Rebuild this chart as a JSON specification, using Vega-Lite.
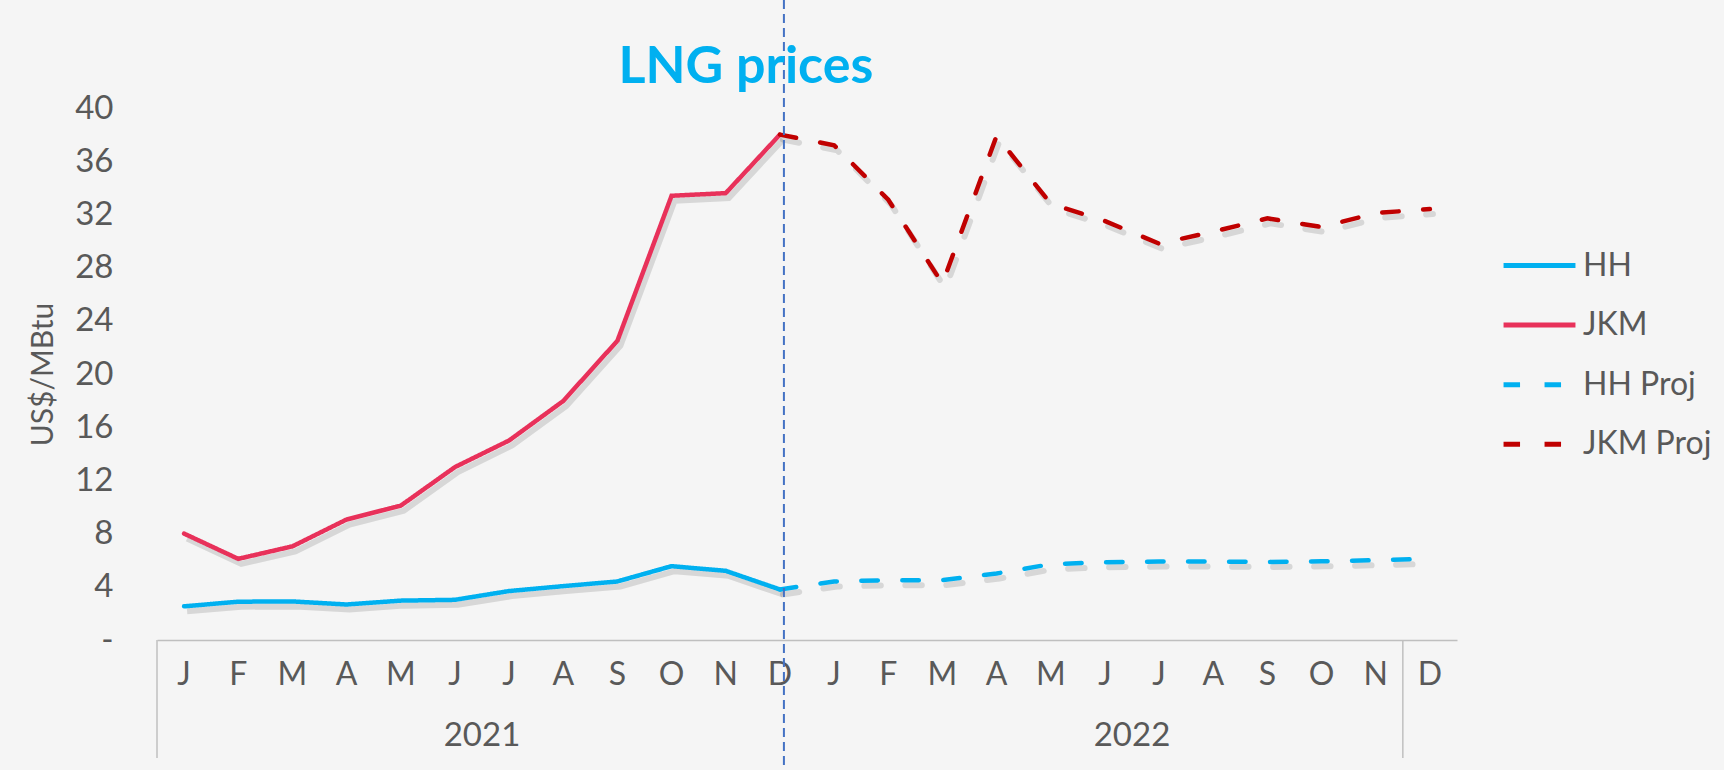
{
  "$schema": "https://vega.github.io/schema/vega-lite/v6.json",
  "width": 1300,
  "height": 532,
  "autosize": {"type": "none"},
  "padding": {"left": 157, "top": 108, "right": 267, "bottom": 130},
  "background": "#F5F5F5",
  "config": {"view": {"stroke": null}, "font": "Lato"},
  "datasets": {
    "prices": [
      {"m": "2021-01", "s": "HH", "v": 2.53}, {"m": "2021-02", "s": "HH", "v": 2.88}, {"m": "2021-03", "s": "HH", "v": 2.9}, {"m": "2021-04", "s": "HH", "v": 2.67}, {"m": "2021-05", "s": "HH", "v": 2.96}, {"m": "2021-06", "s": "HH", "v": 3.02}, {"m": "2021-07", "s": "HH", "v": 3.68}, {"m": "2021-08", "s": "HH", "v": 4.05}, {"m": "2021-09", "s": "HH", "v": 4.4}, {"m": "2021-10", "s": "HH", "v": 5.55}, {"m": "2021-11", "s": "HH", "v": 5.2}, {"m": "2021-12", "s": "HH", "v": 3.8},
      {"m": "2021-01", "s": "JKM", "v": 8.0}, {"m": "2021-02", "s": "JKM", "v": 6.1}, {"m": "2021-03", "s": "JKM", "v": 7.04}, {"m": "2021-04", "s": "JKM", "v": 9.06}, {"m": "2021-05", "s": "JKM", "v": 10.1}, {"m": "2021-06", "s": "JKM", "v": 13.0}, {"m": "2021-07", "s": "JKM", "v": 15.0}, {"m": "2021-08", "s": "JKM", "v": 17.97}, {"m": "2021-09", "s": "JKM", "v": 22.5}, {"m": "2021-10", "s": "JKM", "v": 33.4}, {"m": "2021-11", "s": "JKM", "v": 33.6}, {"m": "2021-12", "s": "JKM", "v": 38.0},
      {"m": "2021-12", "s": "HH Proj", "v": 3.8}, {"m": "2022-01", "s": "HH Proj", "v": 4.4}, {"m": "2022-02", "s": "HH Proj", "v": 4.5}, {"m": "2022-03", "s": "HH Proj", "v": 4.5}, {"m": "2022-04", "s": "HH Proj", "v": 5.0}, {"m": "2022-05", "s": "HH Proj", "v": 5.7}, {"m": "2022-06", "s": "HH Proj", "v": 5.85}, {"m": "2022-07", "s": "HH Proj", "v": 5.9}, {"m": "2022-08", "s": "HH Proj", "v": 5.9}, {"m": "2022-09", "s": "HH Proj", "v": 5.87}, {"m": "2022-10", "s": "HH Proj", "v": 5.92}, {"m": "2022-11", "s": "HH Proj", "v": 6.0}, {"m": "2022-12", "s": "HH Proj", "v": 6.1},
      {"m": "2021-12", "s": "JKM Proj", "v": 38.0}, {"m": "2022-01", "s": "JKM Proj", "v": 37.2}, {"m": "2022-02", "s": "JKM Proj", "v": 33.1}, {"m": "2022-03", "s": "JKM Proj", "v": 26.8}, {"m": "2022-04", "s": "JKM Proj", "v": 37.9}, {"m": "2022-05", "s": "JKM Proj", "v": 32.8}, {"m": "2022-06", "s": "JKM Proj", "v": 31.5}, {"m": "2022-07", "s": "JKM Proj", "v": 29.8}, {"m": "2022-08", "s": "JKM Proj", "v": 30.7}, {"m": "2022-09", "s": "JKM Proj", "v": 31.7}, {"m": "2022-10", "s": "JKM Proj", "v": 31.05}, {"m": "2022-11", "s": "JKM Proj", "v": 32.1}, {"m": "2022-12", "s": "JKM Proj", "v": 32.4}
    ],
    "years": [{"m": "2021-07", "label": "2021"}, {"m": "2022-07", "label": "2022"}],
    "separators": [{"m": "2021-01"}, {"m": "2022-12"}],
    "divider": [{"m": "2021-12"}],
    "heading": [{"m": "2021-12", "label": "LNG prices"}]
  },
  "layer": [
    {
      "data": {"name": "prices"},
      "transform": [{"filter": "datum.s == 'HH' || datum.s == 'JKM'"}],
      "mark": {"type": "line", "color": "#000000", "opacity": 0.12, "strokeWidth": 6, "xOffset": 3, "yOffset": 5},
      "encoding": {
        "x": {"field": "m", "type": "ordinal"},
        "y": {"field": "v", "type": "quantitative"},
        "detail": {"field": "s"}
      }
    },
    {
      "data": {"name": "prices"},
      "transform": [{"filter": "datum.s == 'HH Proj' || datum.s == 'JKM Proj'"}],
      "mark": {"type": "line", "color": "#000000", "opacity": 0.12, "strokeWidth": 6, "strokeDash": [16.5, 24.5], "strokeCap": "round", "xOffset": 3, "yOffset": 5},
      "encoding": {
        "x": {"field": "m", "type": "ordinal"},
        "y": {"field": "v", "type": "quantitative"},
        "detail": {"field": "s"}
      }
    },
    {
      "data": {"name": "prices"},
      "mark": {"type": "line", "strokeWidth": 4.5, "strokeCap": "round"},
      "encoding": {
        "x": {
          "field": "m", "type": "ordinal",
          "scale": {"type": "band", "paddingInner": 0, "paddingOuter": 0,
            "domain": ["2021-01","2021-02","2021-03","2021-04","2021-05","2021-06","2021-07","2021-08","2021-09","2021-10","2021-11","2021-12","2022-01","2022-02","2022-03","2022-04","2022-05","2022-06","2022-07","2022-08","2022-09","2022-10","2022-11","2022-12"]},
          "axis": {
            "title": null, "ticks": false, "grid": false, "labelAngle": 0, "labelAlign": "center",
            "domainColor": "#BFBFBF", "domainWidth": 1.5,
            "labelExpr": "substring('JFMAMJJASOND', toNumber(substring(datum.value, 5, 7)) - 1, toNumber(substring(datum.value, 5, 7)))",
            "labelFont": "Lato", "labelFontSize": 32, "labelColor": "#595959", "labelPadding": 34, "labelBaseline": "middle"
          }
        },
        "y": {
          "field": "v", "type": "quantitative",
          "scale": {"domain": [0, 40], "nice": false},
          "axis": {
            "title": "US$/MBtu", "titleFont": "Lato", "titleFontSize": 30, "titleFontWeight": "normal", "titleColor": "#595959", "titlePadding": 16,
            "values": [0, 4, 8, 12, 16, 20, 24, 28, 32, 36, 40],
            "labelExpr": "datum.value == 0 ? '-' : datum.label",
            "domain": false, "ticks": false, "grid": false,
            "labelFont": "Lato", "labelFontSize": 33, "labelColor": "#595959", "labelPadding": 44
          }
        },
        "color": {
          "field": "s", "type": "nominal",
          "scale": {"domain": ["HH", "JKM", "HH Proj", "JKM Proj"], "range": ["#00B0F0", "#E8315A", "#00B0F0", "#C00000"]},
          "legend": {
            "orient": "none", "legendX": 1351, "legendY": 126, "title": null, "padding": 0,
            "labelFont": "Lato", "labelFontSize": 32, "labelColor": "#595959",
            "symbolType": "M-1.24,0H1.24", "symbolSize": 3364, "symbolStrokeWidth": 5,
            "rowPadding": 11.6, "labelOffset": 12
          }
        },
        "strokeDash": {
          "field": "s", "type": "nominal",
          "scale": {"domain": ["HH", "JKM", "HH Proj", "JKM Proj"], "range": [[1, 0], [1, 0], [16.5, 24.5], [16.5, 24.5]]},
          "legend": {
            "orient": "none", "legendX": 1351, "legendY": 126, "title": null, "padding": 0,
            "labelFont": "Lato", "labelFontSize": 32, "labelColor": "#595959",
            "symbolType": "M-1.24,0H1.24", "symbolSize": 3364, "symbolStrokeWidth": 5,
            "rowPadding": 11.6, "labelOffset": 12
          }
        }
      }
    },
    {
      "data": {"name": "divider"},
      "mark": {"type": "rule", "color": "#4472C4", "strokeWidth": 2, "strokeDash": [9, 5], "xOffset": 4},
      "encoding": {
        "x": {"field": "m", "type": "ordinal"},
        "y": {"value": -108},
        "y2": {"value": 662}
      }
    },
    {
      "data": {"name": "separators"},
      "mark": {"type": "rule", "color": "#BFBFBF", "strokeWidth": 1.5},
      "encoding": {
        "x": {"field": "m", "type": "ordinal", "bandPosition": 0},
        "y": {"value": 532},
        "y2": {"value": 650}
      }
    },
    {
      "data": {"name": "years"},
      "mark": {"type": "text", "font": "Lato", "fontSize": 33, "color": "#595959", "baseline": "middle", "align": "center"},
      "encoding": {
        "x": {"field": "m", "type": "ordinal", "bandPosition": 0},
        "y": {"value": 628},
        "text": {"field": "label"}
      }
    },
    {
      "data": {"name": "heading"},
      "mark": {"type": "text", "font": "Lato", "fontSize": 52, "fontWeight": "bold", "color": "#00B0F0", "baseline": "alphabetic", "align": "center", "dx": -34},
      "encoding": {
        "x": {"field": "m", "type": "ordinal"},
        "y": {"value": -25},
        "text": {"field": "label"}
      }
    }
  ]
}
